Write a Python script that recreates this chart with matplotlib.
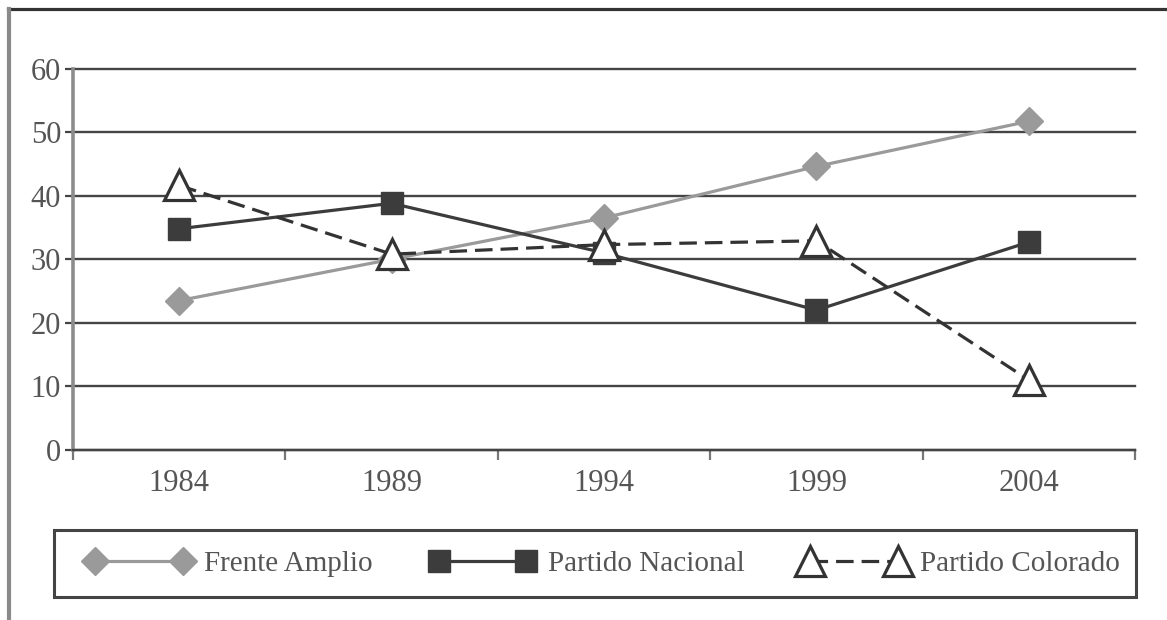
import matplotlib.pyplot as plt
from matplotlib.lines import Line2D

plt.rcParams['font.family'] = ['Liberation Serif', 'DejaVu Serif']

years = ['1984', '1989', '1994', '1999', '2004']
frente_amplio = [23.5, 30.0, 36.5, 44.6, 51.7]
partido_nacional = [34.8, 38.8, 31.0, 22.0, 32.7]
partido_colorado = [41.6, 30.8, 32.3, 32.9, 11.0]
y_ticks = [0, 10, 20, 30, 40, 50, 60]

fig = plt.figure(figsize=(11.67, 6.2), dpi=100)
ax = fig.add_axes([0.0626, 0.2742, 0.9100, 0.6153])

x = range(len(years))
ax.plot(x, frente_amplio, color='#9a9a9a', lw=2.3, marker='D', ms=14,
        mfc='#9a9a9a', mec='#9a9a9a', zorder=3, label='Frente Amplio')
ax.plot(x, partido_nacional, color='#3c3c3c', lw=2.3, marker='s', ms=16,
        mfc='#3c3c3c', mec='#3c3c3c', zorder=4, label='Partido Nacional')
ax.plot(x, partido_colorado, color='#333333', lw=2.3, ls=(0, (5.5, 2.5)),
        marker='^', ms=22, mfc='white', mec='#333333', mew=2.3, zorder=5,
        label='Partido Colorado')

ax.set_xlim(-0.5, len(years) - 0.5)
ax.set_ylim(0, 60)
ax.set_yticks(y_ticks)
ax.set_xticks(list(x))
ax.set_xticklabels(years)
ax.set_xticks([i - 0.5 for i in range(len(years) + 1)], minor=True)

ax.tick_params(axis='y', direction='out', length=5.5, width=1.6, color='#444444',
               labelsize=22, labelcolor='#555555', pad=3)
ax.tick_params(axis='x', which='major', length=0, labelsize=22,
               labelcolor='#555555', pad=14)
ax.tick_params(axis='x', which='minor', direction='out', length=7, width=1.6,
               color='#777777')

ax.yaxis.grid(True, color='#444444', lw=1.7)
for gl in ax.get_ygridlines():
    gl.set_clip_on(False)
ax.set_axisbelow(True)

for side in ['top', 'right']:
    ax.spines[side].set_visible(False)
ax.spines['left'].set_color('#8c8c8c')
ax.spines['left'].set_linewidth(2.6)
ax.spines['bottom'].set_color('#444444')
ax.spines['bottom'].set_linewidth(1.7)

# page frame: dark rule on top, grey rule on the left
fig.add_artist(Line2D([0.007, 1.0], [0.985, 0.985], transform=fig.transFigure,
                      color='#333333', lw=2.3))
fig.add_artist(Line2D([0.008, 0.008], [0.0, 0.985], transform=fig.transFigure,
                      color='#8a8a8a', lw=3.0))

# legend box
fig.add_artist(plt.Rectangle((0.0463, 0.037), 0.927, 0.108, transform=fig.transFigure,
                             fill=False, ec='#444444', lw=2.2))
fig.legend(loc='center left', bbox_to_anchor=(0.074, 0.091), ncol=3,
           frameon=False, numpoints=2, fontsize=21, handlelength=3.6,
           handletextpad=0.45, columnspacing=1.95, borderpad=0, borderaxespad=0,
           labelcolor='#555555')

fig.savefig('out.png', dpi=100)
